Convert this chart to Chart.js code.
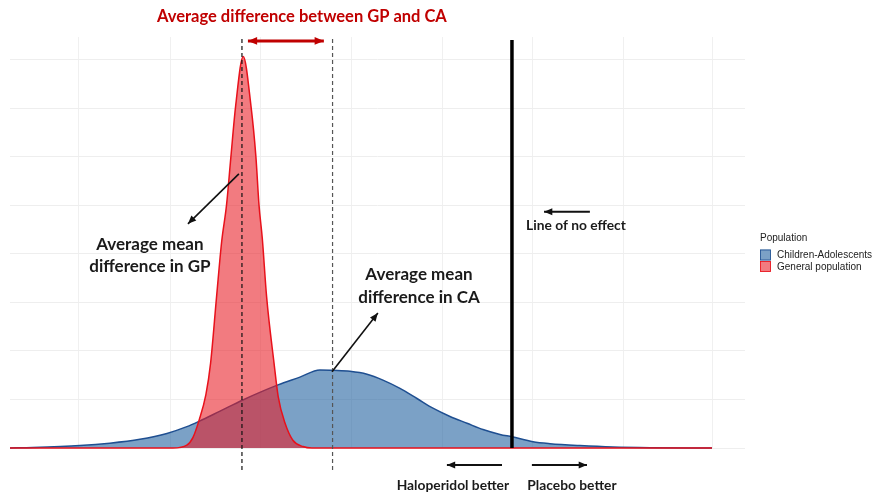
<!DOCTYPE html>
<html>
<head>
<meta charset="utf-8">
<script src="https://cdn.jsdelivr.net/npm/chart.js@4.4.1/dist/chart.umd.min.js"></script>
<style>
  html, body { margin: 0; padding: 0; background: #fff; }
</style>
</head>
<body>
<canvas id="chart" width="875" height="493"></canvas>
<script>
// Data (mean difference vs placebo, density)
const caX = [-2.77, -2.644, -2.384, -2.219, -2.053, -1.904, -1.794, -1.727, -1.611, -1.485, -1.291, -1.17, -1.06, -0.988, -0.894, -0.8, -0.712, -0.618, -0.524, -0.436, -0.342, -0.248, -0.16, -0.066, 0, 0.116, 0.21, 0.375, 0.557, 0.762, 1.104];
const caY = [0, 0.01, 0.05, 0.10, 0.18, 0.30, 0.44, 0.55, 0.76, 0.99, 1.30, 1.46, 1.61, 1.60, 1.58, 1.52, 1.40, 1.23, 1.02, 0.82, 0.65, 0.51, 0.38, 0.28, 0.23, 0.13, 0.09, 0.05, 0.02, 0.006, 0];

const gpX = [-2.77, -1.871, -1.794, -1.76, -1.726, -1.689, -1.663, -1.63, -1.602, -1.575, -1.551, -1.525, -1.483, -1.44, -1.413, -1.396, -1.378, -1.354, -1.313, -1.29, -1.253, -1.209, -1.153, -1.104, 1.104];
const gpY = [0, 0, 0.06, 0.22, 0.58, 1.1, 1.75, 3.12, 4.25, 5.01, 6.0, 7.04, 8.07, 7.04, 6.0, 5.01, 4.33, 3.12, 1.75, 1.06, 0.52, 0.16, 0.03, 0, 0];

const gpMean = -1.49;
const caMean = -0.99;
const noEffect = 0;

const gridX = [-2.39, -1.887, -1.385, -0.883, -0.386, 0.116, 0.613, 1.109];
const gridY = [0, 1, 2, 3, 4, 5, 6, 7, 8];

const seriesNames = ['Children-Adolescents', 'General population'];

// Colours
const caLine = '#1f4f91';
const caFill = 'rgba(35, 98, 160, 0.6)';
const gpLine = '#e8111b';
const gpFill = 'rgba(232, 28, 36, 0.58)';
const darkRed = '#c00000';

const boldFont = (size) => `bold ${size}px Lato, "Open Sans", sans-serif`;

function toPts(xs, ys) {
  return xs.map((x, i) => ({ x: x, y: ys[i] }));
}

function arrow(ctx, x1, y1, x2, y2, color, width, both, head) {
  head = head || 9;
  const ang = Math.atan2(y2 - y1, x2 - x1);
  ctx.save();
  ctx.strokeStyle = color;
  ctx.fillStyle = color;
  ctx.lineWidth = width;
  ctx.beginPath();
  ctx.moveTo(x1, y1);
  ctx.lineTo(x2, y2);
  ctx.stroke();
  const tip = (x, y, a) => {
    ctx.beginPath();
    ctx.moveTo(x, y);
    ctx.lineTo(x - head * Math.cos(a - 0.4), y - head * Math.sin(a - 0.4));
    ctx.lineTo(x - head * Math.cos(a + 0.4), y - head * Math.sin(a + 0.4));
    ctx.closePath();
    ctx.fill();
  };
  tip(x2, y2, ang);
  if (both) tip(x1, y1, ang + Math.PI);
  ctx.restore();
}

// Annotations (placed in data coordinates)
const notes = {
  id: 'notes',
  afterDatasetsDraw(chart) {
    const ctx = chart.ctx;
    const xs = chart.scales.x, ys = chart.scales.y;
    const X = v => xs.getPixelForValue(v);
    const Y = v => ys.getPixelForValue(v);

    // mean lines
    ctx.save();
    ctx.setLineDash([4, 3]);
    ctx.lineWidth = 1.2;
    ctx.strokeStyle = '#111';
    ctx.beginPath();
    ctx.moveTo(X(gpMean), Y(8.43));
    ctx.lineTo(X(gpMean), Y(-0.49));
    ctx.stroke();
    ctx.strokeStyle = '#555';
    ctx.beginPath();
    ctx.moveTo(X(caMean), Y(8.43));
    ctx.lineTo(X(caMean), Y(-0.49));
    ctx.stroke();
    ctx.restore();

    // line of no effect
    ctx.save();
    ctx.strokeStyle = '#000';
    ctx.lineWidth = 3.5;
    ctx.beginPath();
    ctx.moveTo(X(noEffect), Y(8.41));
    ctx.lineTo(X(noEffect), Y(0));
    ctx.stroke();
    ctx.restore();

    // arrows
    arrow(ctx, X(-1.457), Y(8.39), X(-1.038), Y(8.39), darkRed, 3, true, 10);
    arrow(ctx, X(-1.507), Y(5.65), X(-1.788), Y(4.62), '#111', 1.6);
    arrow(ctx, X(-0.993), Y(1.57), X(-0.74), Y(2.78), '#111', 1.6);
    arrow(ctx, X(0.43), Y(4.87), X(0.177), Y(4.87), '#111', 2);
    arrow(ctx, X(-0.055), Y(-0.35), X(-0.359), Y(-0.35), '#111', 2);
    arrow(ctx, X(0.11), Y(-0.35), X(0.414), Y(-0.35), '#111', 2);

    // texts
    ctx.save();
    ctx.textAlign = 'center';
    ctx.textBaseline = 'middle';
    ctx.fillStyle = darkRed;
    ctx.font = boldFont(16.5);
    ctx.fillText('Average difference between GP and CA', X(-1.159), Y(8.89));
    ctx.fillStyle = '#1a1a1a';
    ctx.font = boldFont(17);
    ctx.fillText('Average mean', X(-1.998), Y(4.19));
    ctx.fillText('difference in GP', X(-1.998), Y(3.75));
    ctx.fillText('Average mean', X(-0.513), Y(3.57));
    ctx.fillText('difference in CA', X(-0.513), Y(3.1));
    ctx.font = boldFont(13.8);
    ctx.fillText('Line of no effect', X(0.353), Y(4.58));
    ctx.fillText('Haloperidol better', X(-0.326), Y(-0.78));
    ctx.fillText('Placebo better', X(0.331), Y(-0.78));
    ctx.restore();
  },
  afterDraw(chart) {
    // legend
    const ctx = chart.ctx;
    const left = chart.chartArea.right + 15;
    const midY = (chart.chartArea.top + chart.chartArea.bottom) / 2;
    ctx.save();
    ctx.textBaseline = 'middle';
    ctx.textAlign = 'left';
    ctx.fillStyle = '#222';
    ctx.font = '10px "Liberation Sans", Arial, sans-serif';
    ctx.fillText('Population', left, midY - 4);
    const fills = [caFill, gpFill], lines = [caLine, gpLine];
    seriesNames.forEach((name, i) => {
      const top = midY + 7 + i * 11.5;
      ctx.fillStyle = '#fff';
      ctx.fillRect(left, top, 11, 11);
      ctx.fillStyle = fills[i];
      ctx.fillRect(left, top, 11, 11);
      ctx.strokeStyle = lines[i];
      ctx.lineWidth = 0.8;
      ctx.strokeRect(left + 0.5, top + 0.5, 10, 10);
      ctx.fillStyle = '#222';
      ctx.fillText(name, left + 17, top + 6);
    });
    ctx.restore();
  }
};

const ctx = document.getElementById('chart').getContext('2d');
new Chart(ctx, {
  type: 'line',
  data: {
    datasets: [
      { label: seriesNames[0], data: toPts(caX, caY), borderColor: caLine, backgroundColor: caFill, borderWidth: 1.5, fill: 'origin', pointRadius: 0, cubicInterpolationMode: 'monotone', order: 1, clip: 4 },
      { label: seriesNames[1], data: toPts(gpX, gpY), borderColor: gpLine, backgroundColor: gpFill, borderWidth: 1.5, fill: 'origin', pointRadius: 0, cubicInterpolationMode: 'monotone', order: 0, clip: 4 }
    ]
  },
  options: {
    responsive: false,
    animation: false,
    layout: { padding: { left: 10, right: 130, top: 37, bottom: 45 } },
    plugins: { legend: { display: false }, tooltip: { enabled: false } },
    scales: {
      x: {
        type: 'linear', min: -2.77, max: 1.286,
        afterBuildTicks: s => { s.ticks = gridX.map(v => ({ value: v })); },
        grid: { color: '#f0f0f0', drawTicks: false },
        border: { display: false },
        ticks: { display: false }
      },
      y: {
        type: 'linear', min: 0, max: 8.47,
        afterBuildTicks: s => { s.ticks = gridY.map(v => ({ value: v })); },
        grid: { color: '#eeeeee', drawTicks: false },
        border: { display: false },
        ticks: { display: false }
      }
    }
  },
  plugins: [notes]
});
</script>
</body>
</html>
